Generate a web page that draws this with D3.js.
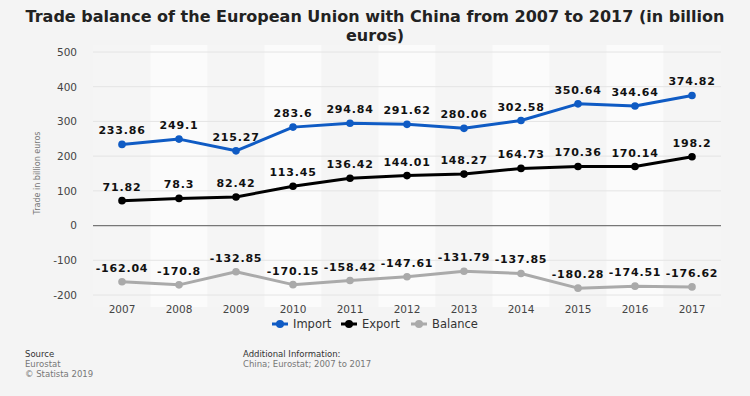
<!DOCTYPE html>
<html>
<head>
<meta charset="utf-8">
<script src="https://cdn.jsdelivr.net/npm/d3@7"></script>
<style>
  body { margin: 0; background: #f4f4f4; }
  svg { display: block; font-family: "DejaVu Sans", sans-serif; }
</style>
</head>
<body>
<div id="chart"></div>
<script>
// Data
const years = ["2007", "2008", "2009", "2010", "2011", "2012", "2013", "2014", "2015", "2016", "2017"];
const importValues = [233.86, 249.1, 215.27, 283.6, 294.84, 291.62, 280.06, 302.58, 350.64, 344.64, 374.82];
const exportValues = [71.82, 78.3, 82.42, 113.45, 136.42, 144.01, 148.27, 164.73, 170.36, 170.14, 198.2];
const balanceValues = [-162.04, -170.8, -132.85, -170.15, -158.42, -147.61, -131.79, -137.85, -180.28, -174.51, -176.62];
const yTicks = [-200, -100, 0, 100, 200, 300, 400, 500];

const seriesList = [
    { name: "Import", values: importValues, color: "#0f5bc4" },
    { name: "Export", values: exportValues, color: "#000000" },
    { name: "Balance", values: balanceValues, color: "#aaaaaa" }
];

const W = 750, H = 396;
const svg = d3.select("#chart").append("svg")
    .attr("width", W)
    .attr("height", H);

svg.append("rect").attr("width", W).attr("height", H).attr("fill", "#f4f4f4");

// Title
svg.append("text")
    .attr("x", 375).attr("y", 22)
    .attr("text-anchor", "middle")
    .attr("font-size", 16).attr("font-weight", "bold").attr("fill", "#222")
    .text("Trade balance of the European Union with China from 2007 to 2017 (in billion");
svg.append("text")
    .attr("x", 375).attr("y", 41)
    .attr("text-anchor", "middle")
    .attr("font-size", 16).attr("font-weight", "bold").attr("fill", "#222")
    .text("euros)");

// Scales
const x = d3.scaleBand().domain(years).range([93.5, 720.5]);
const y = d3.scaleLinear().domain([-200, 500]).range([295, 52]);

// Alternating column shading
svg.append("g").selectAll("rect")
    .data(years)
    .join("rect")
    .attr("x", d => x(d))
    .attr("y", 45)
    .attr("width", x.bandwidth())
    .attr("height", 262)
    .attr("fill", (d, i) => i % 2 ? "#fbfbfb" : "#f5f5f5");

// Grid lines
svg.append("g").selectAll("line")
    .data(yTicks)
    .join("line")
    .attr("x1", 93).attr("x2", 721)
    .attr("y1", d => y(d)).attr("y2", d => y(d))
    .attr("stroke", d => d === 0 ? "#777" : "#e4e4e4")
    .attr("stroke-width", d => d === 0 ? 1.3 : 1);

// Y axis
const yAxis = svg.append("g")
    .attr("transform", "translate(77,0)")
    .call(d3.axisLeft(y).tickValues(yTicks).tickFormat(d => String(d)).tickSize(0).tickPadding(0));
yAxis.select(".domain").remove();
yAxis.selectAll("text").attr("font-size", 10.5).attr("fill", "#444")
    .attr("font-family", "DejaVu Sans, sans-serif");

svg.append("text")
    .attr("transform", "translate(40,173) rotate(-90)")
    .attr("text-anchor", "middle")
    .attr("font-size", 8).attr("fill", "#777")
    .text("Trade in billion euros");

// X axis
const xAxis = svg.append("g")
    .attr("transform", "translate(0,300)")
    .call(d3.axisBottom(x).tickSize(0).tickPadding(6));
xAxis.select(".domain").remove();
xAxis.selectAll("text").attr("font-size", 10.5).attr("fill", "#444")
    .attr("font-family", "DejaVu Sans, sans-serif");

// Lines
const line = d3.line()
    .x((d, i) => x(years[i]) + x.bandwidth() / 2)
    .y(d => y(d));

seriesList.forEach(s => {
    const g = svg.append("g");
    g.append("path")
        .datum(s.values)
        .attr("d", line)
        .attr("fill", "none")
        .attr("stroke", s.color)
        .attr("stroke-width", 3)
        .attr("stroke-linejoin", "round");
    g.selectAll("circle")
        .data(s.values)
        .join("circle")
        .attr("cx", (d, i) => x(years[i]) + x.bandwidth() / 2)
        .attr("cy", d => y(d))
        .attr("r", 3.8)
        .attr("fill", s.color);
    g.selectAll("text")
        .data(s.values)
        .join("text")
        .attr("x", (d, i) => x(years[i]) + x.bandwidth() / 2)
        .attr("y", d => y(d) - 10)
        .attr("text-anchor", "middle")
        .attr("font-size", 11).attr("font-weight", "bold")
        .attr("letter-spacing", 0.8)
        .attr("fill", "#111")
        .text(d => d);
});

// Legend
const legendItems = [
    { name: "Import", color: "#0f5bc4", x: 272 },
    { name: "Export", color: "#000000", x: 341 },
    { name: "Balance", color: "#aaaaaa", x: 411 }
];
const legend = svg.append("g");
legendItems.forEach(l => {
    legend.append("line")
        .attr("x1", l.x).attr("x2", l.x + 16)
        .attr("y1", 324).attr("y2", 324)
        .attr("stroke", l.color).attr("stroke-width", 3);
    legend.append("circle")
        .attr("cx", l.x + 8).attr("cy", 324).attr("r", 4)
        .attr("fill", l.color);
    legend.append("text")
        .attr("x", l.x + 21).attr("y", 328)
        .attr("font-size", 11.5).attr("fill", "#333")
        .text(l.name);
});

// Footer
const foot = svg.append("g").attr("font-size", 8.5);
foot.append("text").attr("x", 25).attr("y", 357).attr("fill", "#333").text("Source");
foot.append("text").attr("x", 25).attr("y", 367).attr("fill", "#777").text("Eurostat");
foot.append("text").attr("x", 25).attr("y", 377).attr("fill", "#777").text("© Statista 2019");
foot.append("text").attr("x", 243).attr("y", 357).attr("fill", "#333").text("Additional Information:");
foot.append("text").attr("x", 243).attr("y", 367).attr("fill", "#777").text("China; Eurostat; 2007 to 2017");
</script>
</body>
</html>
